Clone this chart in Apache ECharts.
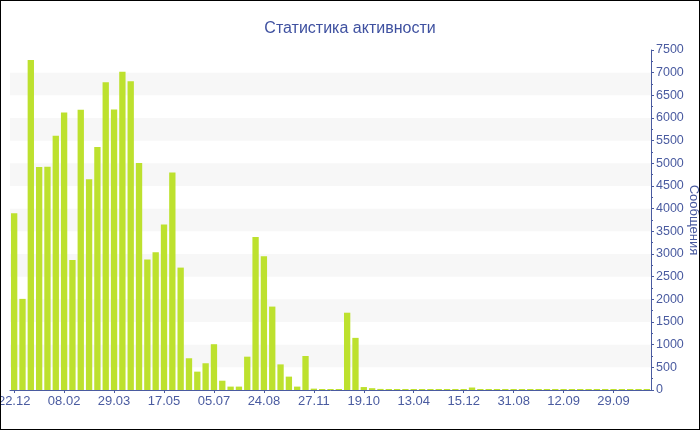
<!DOCTYPE html>
<html>
<head>
<meta charset="utf-8">
<script src="https://cdn.jsdelivr.net/npm/echarts@6/dist/echarts.min.js"></script>
<style>
html,body{margin:0;padding:0;background:#fff;}
#c{width:700px;height:430px;box-sizing:border-box;border:1px solid #000;}
</style>
</head>
<body>
<div id="c"></div>
<script>
const titleText = 'Статистика активности';
const yName = 'Сообщения';
const categories = [
 '22.12','30.12','07.01','15.01','23.01','31.01',
 '08.02','16.02','24.02','04.03','12.03','20.03',
 '29.03','06.04','14.04','22.04','30.04','08.05',
 '17.05','25.05','02.06','10.06','18.06','26.06',
 '05.07','13.07','21.07','29.07','06.08','15.08',
 '24.08','09.09','25.09','11.10','27.10','12.11',
 '27.11','20.01','15.03','09.05','03.07','27.08',
 '19.10','19.11','19.12','18.01','17.02','16.03',
 '13.04','24.05','03.07 ','12.08','21.09','04.11',
 '15.12','27.01','11.03','23.04','05.06','18.07',
 '31.08','02.09','04.09','06.09','08.09','10.09',
 '12.09','15.09','18.09','21.09','24.09','26.09',
 '29.09','02.10','05.10','08.10','11.10 '
];
const messages = [
 3900, 2010, 7280, 4920, 4925, 5610,
 6120, 2870, 6180, 4650, 5360, 6790,
 6190, 7020, 6810, 5010, 2880, 3040,
 3650, 4800, 2700, 700, 405, 590,
 1010, 205, 75, 75, 735, 3375,
 2950, 1840, 565, 295, 75, 750,
 30, 22, 22, 22, 1705, 1150,
 65, 40, 24, 22, 22, 22,
 22, 22, 22, 22, 22, 22,
 22, 55, 22, 22, 22, 22,
 22, 22, 22, 22, 22, 22,
 22, 22, 22, 22, 22, 22,
 22, 22, 22, 22, 22
];
const blue = '#4a5ba0';
const font = 'Liberation Sans';
const chart = echarts.init(document.getElementById('c'), null, {renderer:'canvas'});
chart.setOption({
  animation:false,
  textStyle:{fontFamily:font},
  title:{text:titleText,left:'center',top:15,
    textStyle:{fontFamily:font,fontSize:16,fontWeight:'normal',color:'#3f51a0'}},
  grid:{left:9,right:48,top:49,bottom:39,containLabel:false,outerBoundsMode:'none'},
  xAxis:{type:'category',data:categories,
    axisLine:{lineStyle:{color:blue,width:1}},
    axisTick:{show:true,interval:5,alignWithLabel:true,length:3,lineStyle:{color:blue}},
    axisLabel:{interval:5,color:blue,fontSize:13,margin:5,fontFamily:font,hideOverlap:false},
    splitLine:{show:false}},
  yAxis:{type:'value',position:'right',min:0,max:7500,interval:500,
    name:yName,nameLocation:'middle',nameRotate:-90,nameGap:36,nameMoveOverlap:false,
    nameTextStyle:{color:blue,fontSize:13,fontFamily:font},
    axisLine:{show:true,lineStyle:{color:blue}},
    axisTick:{show:true,length:3,lineStyle:{color:blue}},
    minorTick:{show:true,splitNumber:2,length:2,lineStyle:{color:blue}},
    axisLabel:{color:blue,fontSize:12.5,margin:5,fontFamily:font,
      formatter:function(v){return String(v);}},
    splitLine:{show:false},
    splitArea:{show:true,areaStyle:{color:['rgba(255,255,255,0)','#f7f7f7']}}},
  series:[{type:'bar',data:messages,barCategoryGap:'24%',
    itemStyle:{color:'#bde12e'}}]
});
</script>
</body>
</html>
